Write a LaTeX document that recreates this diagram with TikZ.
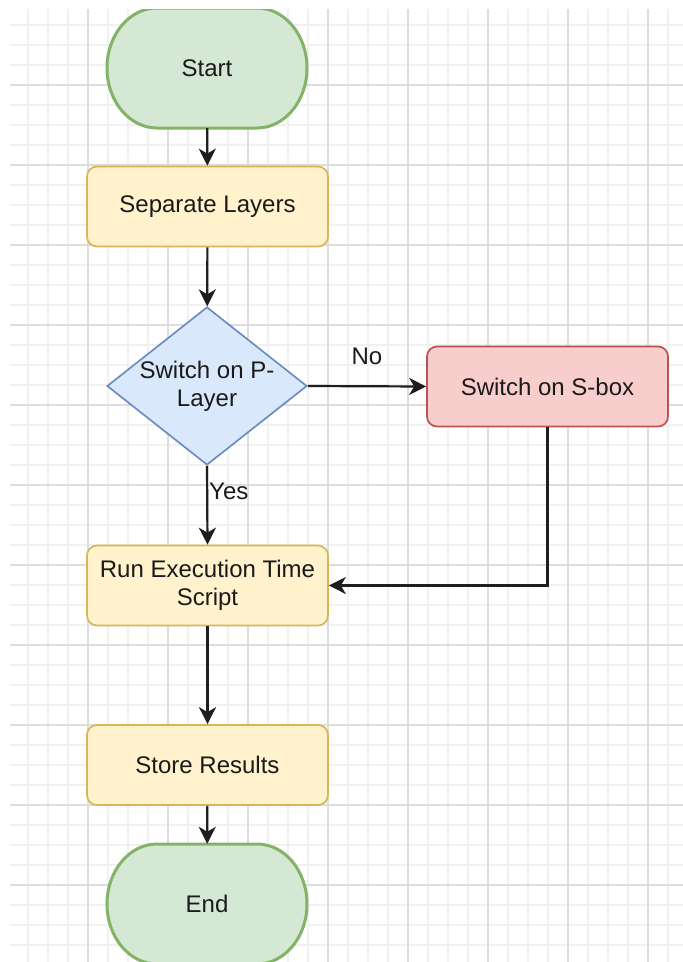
\documentclass[tikz,border=0pt]{standalone}
\usepackage{fontspec}
\setmainfont{Liberation Sans}
\usetikzlibrary{arrows.meta,shapes.geometric}

\definecolor{gridminor}{HTML}{F1F1F1}
\definecolor{gridmajor}{HTML}{DDDDDD}
\definecolor{termfill}{HTML}{D5E8D4}
\definecolor{termline}{HTML}{82B366}
\definecolor{procfill}{HTML}{FFF2CC}
\definecolor{procline}{HTML}{D6B656}
\definecolor{decfill}{HTML}{DAE8FC}
\definecolor{decline}{HTML}{6C8EBF}
\definecolor{altfill}{HTML}{F8CECC}
\definecolor{altline}{HTML}{B85450}
\definecolor{ink}{HTML}{1A1A1A}
\definecolor{wire}{HTML}{1E1E1E}

% terminator outline: flat top and bottom, half-elliptic ends
\newcommand\terminatorpath[1]{%
  \path[termline outline, shift={(#1)}] (-50,-60) -- (50,-60)
    arc[start angle=90, end angle=-90, x radius=50pt, y radius=60pt]
    -- (-50,60)
    arc[start angle=270, end angle=90, x radius=50pt, y radius=60pt]
    -- cycle;}

\begin{document}
\begin{tikzpicture}[x=1pt,y=-1pt,
  every node/.style={font=\fontsize{24pt}{28pt}\selectfont, text=ink, inner sep=0pt},
  termline outline/.style={draw=termline, fill=termfill, line width=3pt},
  term/.style={minimum width=200pt, minimum height=120pt},
  proc/.style={draw=procline, fill=procfill, line width=1.7pt, rounded corners=10pt,
    minimum width=241pt, minimum height=80pt, align=center},
  alt/.style={proc, draw=altline, fill=altfill},
  decision/.style={diamond, aspect=1.266, draw=decline, fill=decfill, line width=1.7pt,
    minimum width=200pt, minimum height=158pt, align=center},
  arr/.style={draw=wire, line width=2.2pt,
    -{Stealth[length=17pt, width=17pt, inset=5pt]}},
  edgelabel/.style={fill=none}
]
\useasboundingbox[fill=white] (0,0) rectangle (683,962);
\begin{scope}
  \clip (10,9) rectangle (683,962);
  % light background grid: minor every 20, major every 80
  \foreach \x in {28,48,...,668}
    \draw[gridminor, line width=1.5pt] (\x,9) -- (\x,962);
  \foreach \y in {25,45,...,945}
    \draw[gridminor, line width=1.5pt] (10,\y) -- (683,\y);
  \foreach \x in {88,168,...,648}
    \draw[gridmajor, line width=1.5pt] (\x,9) -- (\x,962);
  \foreach \y in {85,165,...,885}
    \draw[gridmajor, line width=1.5pt] (10,\y) -- (683,\y);

  % terminator outlines
  \terminatorpath{207,68}
  \terminatorpath{207,904}

  % flow nodes
  \node[term] (start) at (207,68) {Start};
  \node[proc] (sep) at (207.5,206.5) {Separate Layers};
  \node[decision] (dec) at (207,386) {Switch on P-\\Layer};
  \node[alt] (sbox) at (547.5,386.5) {Switch on S-box};
  \node[proc] (run) at (207.5,585.5) {Run Execution Time\\Script};
  \node[proc] (store) at (207.5,765) {Store Results};
  \node[term] (end) at (207,904) {End};

  % connectors
  \draw[arr] (start) -- (sep);
  \draw[arr] (sep) -- (dec);
  \draw[arr] (dec.east) -- node[edgelabel, pos=0.5, yshift=30pt] (nolbl) {No} (sbox.west);
  \draw[arr] (dec.south) -- (run.north);
  \node[edgelabel, anchor=west] (yeslbl) at (209,491) {Yes};
  \draw[arr] (sbox.south) |- (run.east);
  \draw[arr] (run) -- (store);
  \draw[arr] (store) -- (end);
\end{scope}
\end{tikzpicture}
\end{document}
